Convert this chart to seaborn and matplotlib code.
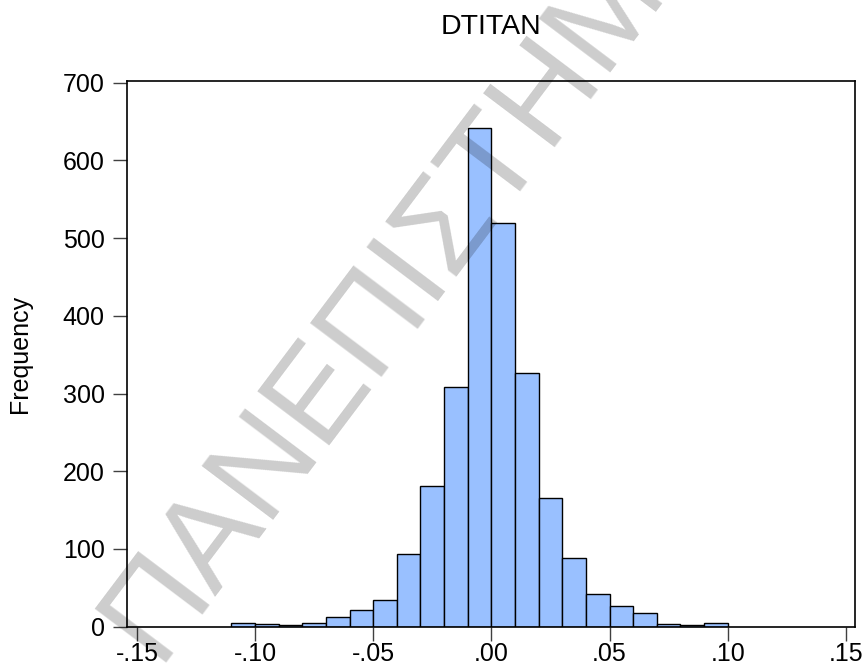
import numpy as np
import pandas as pd
import matplotlib
matplotlib.use("Agg")
import matplotlib.pyplot as plt
import seaborn as sns

# Histogram data (bin left edges, width 0.01) and counts
bin_left = [-0.11, -0.10, -0.09, -0.08, -0.07, -0.06, -0.05, -0.04, -0.03, -0.02,
            -0.01, 0.00, 0.01, 0.02, 0.03, 0.04, 0.05, 0.06, 0.07, 0.08, 0.09]
counts = [5, 3, 2, 5, 12, 21, 34, 94, 181, 308,
          641, 519, 326, 165, 89, 42, 27, 18, 4, 2, 5]
bin_width = 0.01
x_ticks = [-0.15, -0.10, -0.05, 0.00, 0.05, 0.10, 0.15]
x_tick_labels = ["-.15", "-.10", "-.05", ".00", ".05", ".10", ".15"]
y_ticks = [0, 100, 200, 300, 400, 500, 600, 700]
title = "DTITAN"
ylabel = "Frequency"
watermark = "ΠΑΝΕΠΙΣΤΗΜΙΟ"

sns.set_style("white")
plt.rcParams["font.family"] = ["Liberation Sans", "DejaVu Sans"]
plt.rcParams["text.color"] = "black"
plt.rcParams["xtick.color"] = "black"
plt.rcParams["ytick.color"] = "black"
plt.rcParams["axes.labelcolor"] = "black"

edges = [round(v, 4) for v in bin_left + [bin_left[-1] + bin_width]]
centers = [round(v + bin_width / 2, 4) for v in bin_left]
df = pd.DataFrame({"x": centers, "w": counts})

fig = plt.figure(figsize=(8.66, 6.69), dpi=100)
ax = fig.add_axes([0.1467, 0.0632, 0.8406, 0.8157])

sns.histplot(data=df, x="x", weights="w", bins=edges, ax=ax,
             color="#99C0FF", alpha=1.0, edgecolor="black", linewidth=1.0)

ax.set_xlim(-0.1542, 0.1539)
ax.set_ylim(0, 702)
ax.set_xticks(x_ticks)
ax.set_xticklabels(x_tick_labels)
ax.set_yticks(y_ticks)
ax.tick_params(axis="both", which="major", direction="out", length=10,
               width=1.0, color="#404040", labelcolor="black", labelsize=18,
               bottom=True, left=True, top=False, right=False)
ax.tick_params(axis="x", pad=1)
ax.tick_params(axis="y", pad=6)
for s in ax.spines.values():
    s.set_visible(True)
    s.set_color("black")
    s.set_linewidth(1.2)
ax.set_xlabel("")
ax.set_ylabel(ylabel, fontsize=18, labelpad=22, color="black")
ax.set_title(title, fontsize=20.5, pad=34, color="black")
ax.grid(False)

fig.text(0.205, -0.015, watermark, rotation=53, rotation_mode="anchor",
         ha="left", va="bottom", fontsize=93, color="black", alpha=0.2,
         family="Liberation Sans", zorder=10)

fig.savefig("out.png", dpi=100)
